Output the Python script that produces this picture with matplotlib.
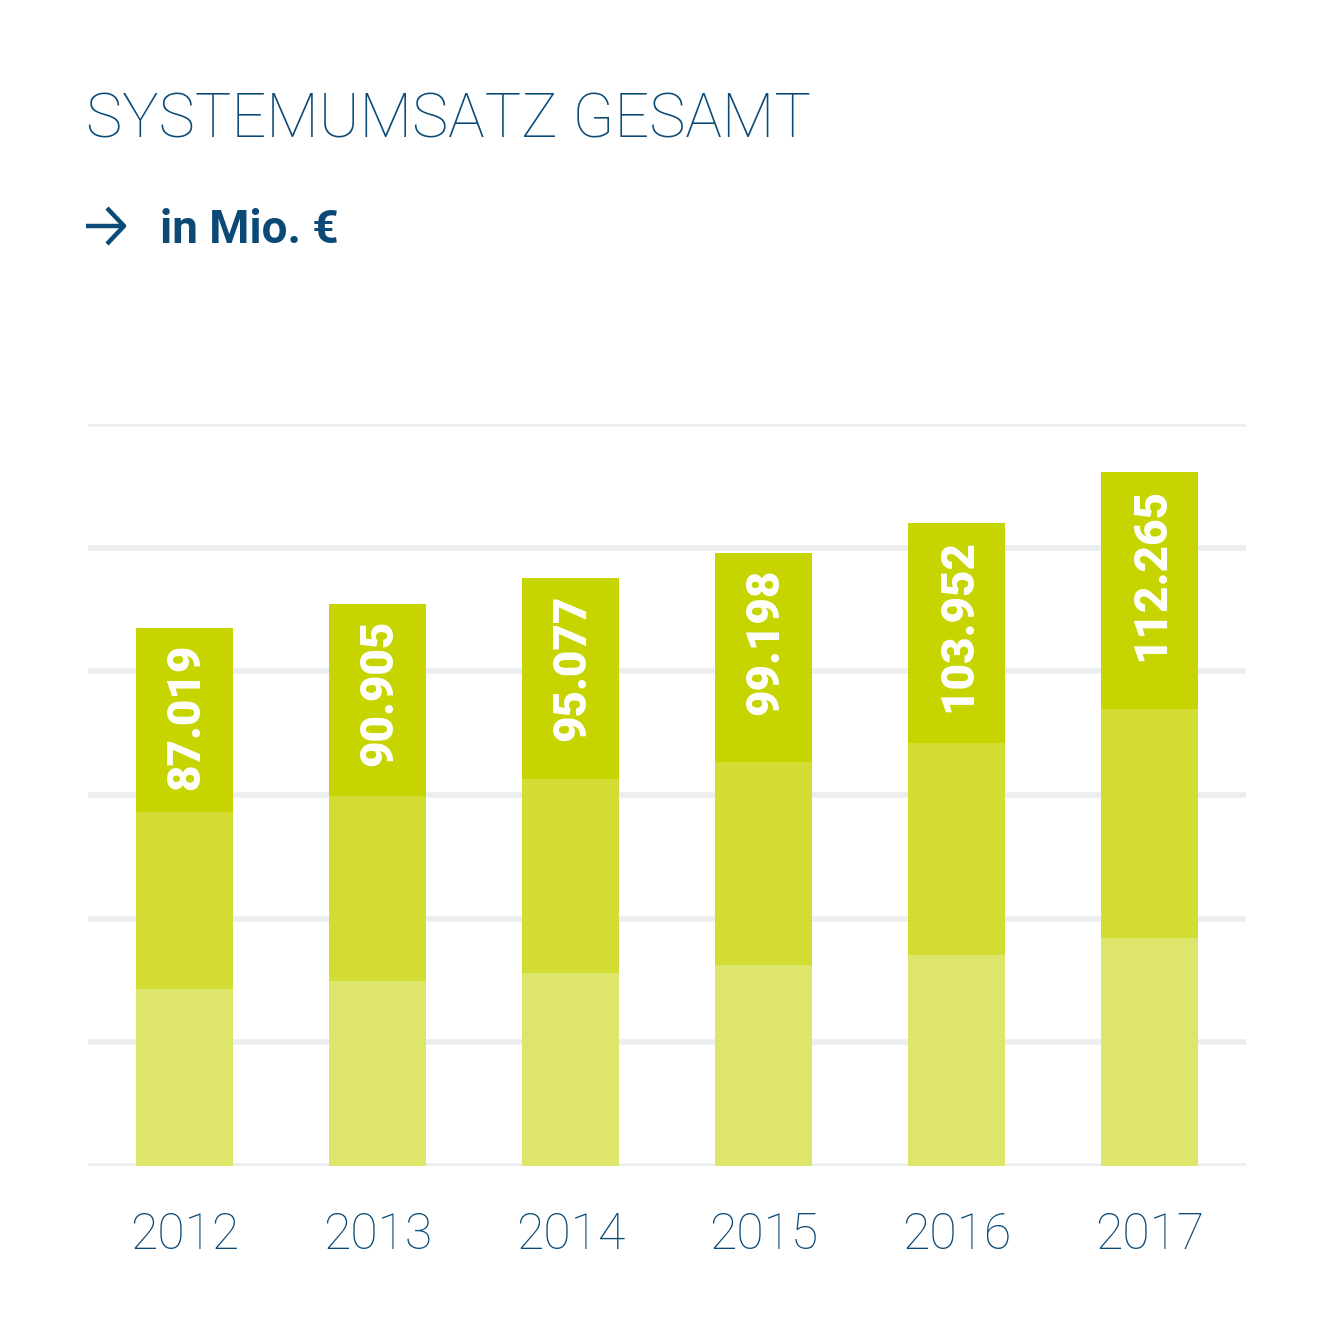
import numpy as np
import matplotlib.pyplot as plt
from matplotlib.lines import Line2D

years = ["2012", "2013", "2014", "2015", "2016", "2017"]
totals = [87.019, 90.905, 95.077, 99.198, 103.952, 112.265]
seg_bottom = [28.6, 29.9, 31.2, 32.5, 34.1, 36.9]
seg_middle = [28.7, 29.9, 31.4, 32.8, 34.3, 37.0]
labels = ["87.019", "90.905", "95.077", "99.198", "103.952", "112.265"]

seg_top = [t - b - m for t, b, m in zip(totals, seg_bottom, seg_middle)]

blue = "#0b4a76"
c_bottom = "#dde66a"
c_middle = "#d3dc33"
c_top = "#c6d400"

W = 1334
fig = plt.figure(figsize=(13.34, 13.34), dpi=100)
ax = fig.add_axes([88 / W, 1 - 1166 / W, (1246 - 88) / W, (1166 - 424) / W])

x = np.arange(len(years))
ax.bar(x, seg_bottom, width=0.5, color=c_bottom, zorder=3)
ax.bar(x, seg_middle, width=0.5, bottom=seg_bottom, color=c_middle, zorder=3)
ax.bar(x, seg_top, width=0.5, bottom=np.add(seg_bottom, seg_middle), color=c_top, zorder=3)

for xi, t, lab in zip(x, totals, labels):
    ax.text(xi + 0.01, t - 2.6, lab, rotation=90, ha="center", va="top",
            color="white", fontsize=33, fontweight="black",
            family="Roboto", zorder=4)

ax.set_xlim(-0.5, 5.5)
ax.set_ylim(0, 120)
ax.set_yticks(np.arange(0, 121, 20))
ax.grid(axis="y", color="#ebedef", linewidth=4, zorder=0)
ax.tick_params(left=False, bottom=False, labelleft=False, labelbottom=False)
for s in ax.spines.values():
    s.set_visible(False)

for xi, y in zip(x, years):
    ax.text(xi, -7.3, y, ha="center", va="top", color=blue, fontsize=36,
            family="Roboto", fontweight="light", clip_on=False)

fig.text(86 / W, 1 - 138 / W, "SYSTEMUMSATZ GESAMT", color=blue, fontsize=44,
         family="Roboto", fontweight="light", ha="left", va="baseline")

# arrow in front of the unit line
arrow_kw = dict(color=blue, linewidth=3.2, solid_capstyle="butt", transform=fig.transFigure)
fig.add_artist(Line2D([86 / W, 124 / W], [1 - 226 / W, 1 - 226 / W], **arrow_kw))
fig.add_artist(Line2D([107 / W, 124 / W, 107 / W], [1 - 208 / W, 1 - 226 / W, 1 - 244 / W], **arrow_kw))

fig.text(160 / W, 1 - 243 / W, "in Mio. \u20ac", color=blue, fontsize=33,
         family="Roboto", fontweight="bold", ha="left", va="baseline")

fig.savefig("out.png", dpi=100)
